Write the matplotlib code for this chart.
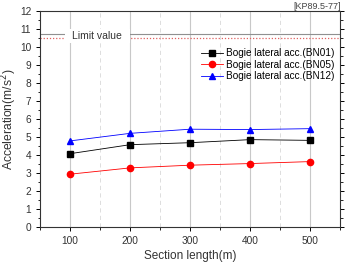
import matplotlib.pyplot as plt
from matplotlib.ticker import MultipleLocator

plt.rcParams['font.family'] = ['Liberation Sans', 'DejaVu Sans']

# du lieu doc tu hinh
lengths = [100, 200, 300, 400, 500]
bn01 = [4.07, 4.57, 4.68, 4.85, 4.81]
bn05 = [2.93, 3.28, 3.43, 3.52, 3.63]
bn12 = [4.78, 5.20, 5.43, 5.41, 5.46]
limit_gray = 10.7
limit_red = 10.5

fig = plt.figure(figsize=(3.46, 2.62), dpi=100)
ax = fig.add_axes([0.116, 0.134, 0.867, 0.824])

# luoi doc
for x in lengths:
    ax.axvline(x, color='#c8c8c8', lw=0.8, zorder=0)
for x in [150, 250, 350, 450]:
    ax.axvline(x, color='#d8d8d8', lw=0.6, ls=(0, (5, 4)), zorder=0)

ax.axhline(limit_gray, color='#909090', lw=0.8)
ax.axhline(limit_red, color='#e06060', lw=0.9, ls=(0, (1, 1.5)))
# o trang che duong gioi han
ax.fill_between([92, 200], 10.2, 11.0, color='white', zorder=2, lw=0)
ax.text(103, 10.6, 'Limit value', fontsize=7.5, va='center', ha='left',
        color='#333333', zorder=3)

ax.plot(lengths, bn01, '-s', color='black', lw=0.6, ms=4, label='Bogie lateral acc.(BN01)')
ax.plot(lengths, bn05, '-o', color='red', lw=0.6, ms=4.5, mfc='red', mec='red',
        label='Bogie lateral acc.(BN05)')
ax.plot(lengths, bn12, '-^', color='blue', lw=0.6, ms=4.5, label='Bogie lateral acc.(BN12)')

ax.set_xlim(50, 550)
ax.set_ylim(0, 12)
ax.xaxis.set_major_locator(MultipleLocator(100))
ax.xaxis.set_minor_locator(MultipleLocator(50))
ax.yaxis.set_major_locator(MultipleLocator(1))
ax.yaxis.set_minor_locator(MultipleLocator(0.5))
ax.tick_params(which='both', direction='out', labelsize=7.3, right=True, top=False,
               labelcolor='#333333')
ax.tick_params(which='major', length=3, width=0.7)
ax.tick_params(which='minor', length=1.8, width=0.6)
for s in ax.spines.values():
    s.set_linewidth(0.8)
    s.set_color('#333333')

ax.set_xlabel('Section length(m)', fontsize=8.5, labelpad=3, color='#333333')
ax.set_ylabel('Acceleration(m/s$^2$)', fontsize=8.7, color='#333333')
ax.yaxis.set_label_coords(-0.072, 0.5)

ax.legend(loc='upper right', bbox_to_anchor=(1.0, 0.855), frameon=False, fontsize=7.2,
          handlelength=2.2, handletextpad=0.3, labelspacing=0.15, borderaxespad=0.2)

fig.text(0.985, 0.992, '[KP89.5-77]', fontsize=6.5, ha='right', va='top', color='#444444')

plt.savefig('out.png', dpi=100)
